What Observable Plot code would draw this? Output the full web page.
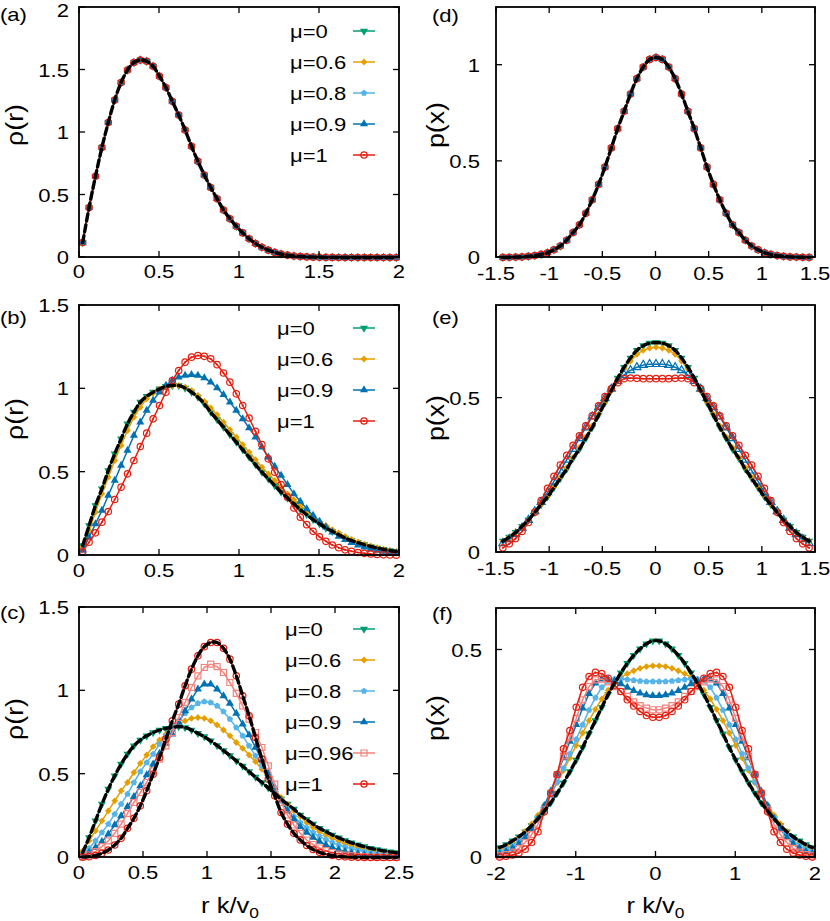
<!DOCTYPE html>
<html><head><meta charset="utf-8">
<script src="https://cdn.jsdelivr.net/npm/d3@7"></script>
<script src="https://cdn.jsdelivr.net/npm/@observablehq/plot@0.6"></script>
<style>
body{margin:0;background:#fff;}
#fig{position:relative;width:830px;height:921px;background:#fff;}
#fig svg{position:absolute;}
</style></head><body><div id="fig"></div>
<script>
// ---------- tick labels ----------
const xTicksR2 = [0, 0.5, 1, 1.5, 2];
const xTicksR25 = [0, 0.5, 1, 1.5, 2, 2.5];
const xTicksX15 = [-1.5, -1, -0.5, 0, 0.5, 1, 1.5];
const xTicksX2 = [-2, -1, 0, 1, 2];
const yTicksA = [0, 0.5, 1, 1.5, 2];
const yTicksBC = [0, 0.5, 1, 1.5];
const yTicksD = [0, 0.5, 1];
const yTicksEF = [0, 0.5];
const muLabels = {"0":"μ=0","0.6":"μ=0.6","0.8":"μ=0.8","0.9":"μ=0.9","0.96":"μ=0.96","1":"μ=1"};

// ---------- x positions ----------
const xAB = [0.02,0.06,0.10,0.14,0.18,0.22,0.26,0.30,0.34,0.38,0.42,0.46,0.50,0.54,0.58,0.62,0.66,0.70,0.74,0.78,0.82,0.86,0.90,0.94,0.98,1.02,1.06,1.10,1.14,1.18,1.22,1.26,1.30,1.34,1.38,1.42,1.46,1.50,1.54,1.58,1.62,1.66,1.70,1.74,1.78,1.82,1.86,1.90,1.94,1.98];
const xC = [0.025,0.075,0.125,0.175,0.225,0.275,0.325,0.375,0.425,0.475,0.525,0.575,0.625,0.675,0.725,0.775,0.825,0.875,0.925,0.975,1.025,1.075,1.125,1.175,1.225,1.275,1.325,1.375,1.425,1.475,1.525,1.575,1.625,1.675,1.725,1.775,1.825,1.875,1.925,1.975,2.025,2.075,2.125,2.175,2.225,2.275,2.325,2.375,2.425,2.475];
const xDE = [-1.44,-1.38,-1.32,-1.26,-1.20,-1.14,-1.08,-1.02,-0.96,-0.90,-0.84,-0.78,-0.72,-0.66,-0.60,-0.54,-0.48,-0.42,-0.36,-0.30,-0.24,-0.18,-0.12,-0.06,0,0.06,0.12,0.18,0.24,0.30,0.36,0.42,0.48,0.54,0.60,0.66,0.72,0.78,0.84,0.90,0.96,1.02,1.08,1.14,1.20,1.26,1.32,1.38,1.44];
const xF = [-1.96,-1.88,-1.80,-1.72,-1.64,-1.56,-1.48,-1.40,-1.32,-1.24,-1.16,-1.08,-1.00,-0.92,-0.84,-0.76,-0.68,-0.60,-0.52,-0.44,-0.36,-0.28,-0.20,-0.12,-0.04,0.04,0.12,0.20,0.28,0.36,0.44,0.52,0.60,0.68,0.76,0.84,0.92,1.00,1.08,1.16,1.24,1.32,1.40,1.48,1.56,1.64,1.72,1.80,1.88,1.96];

// ---------- panel (a): all mu coincide ----------
const rhoA = [0.12,0.40,0.65,0.88,1.08,1.26,1.40,1.50,1.56,1.58,1.57,1.53,1.45,1.36,1.25,1.14,1.02,0.89,0.77,0.66,0.56,0.47,0.38,0.31,0.25,0.197,0.15,0.112,0.082,0.059,0.041,0.028,0.019,0.012,0.008,0.005,0.003,0.002,0.001,0.001,0.0005,0,0,0,0,0,0,0,0,0];

// ---------- panel (b) ----------
const rhoB_mu0 = [0.06,0.18,0.30,0.40,0.51,0.61,0.70,0.79,0.86,0.92,0.955,0.98,1.0,1.015,1.02,1.02,1.005,0.98,0.95,0.91,0.86,0.815,0.77,0.725,0.68,0.635,0.59,0.545,0.50,0.46,0.42,0.38,0.345,0.31,0.275,0.245,0.215,0.19,0.165,0.145,0.125,0.105,0.09,0.077,0.065,0.054,0.045,0.037,0.03,0.024];
const rhoB_mu06 = [0.05,0.15,0.26,0.37,0.47,0.57,0.66,0.75,0.83,0.89,0.94,0.975,1.0,1.015,1.02,1.02,1.01,0.99,0.96,0.925,0.885,0.845,0.80,0.755,0.71,0.665,0.62,0.575,0.53,0.49,0.45,0.41,0.37,0.335,0.30,0.265,0.235,0.205,0.18,0.155,0.135,0.115,0.097,0.082,0.068,0.057,0.047,0.038,0.031,0.025];
const rhoB_mu09 = [0.03,0.11,0.19,0.27,0.36,0.45,0.54,0.63,0.72,0.80,0.87,0.93,0.98,1.02,1.05,1.07,1.08,1.085,1.08,1.065,1.04,1.005,0.965,0.92,0.87,0.82,0.765,0.71,0.65,0.59,0.535,0.48,0.425,0.37,0.325,0.28,0.24,0.205,0.17,0.14,0.115,0.095,0.077,0.062,0.05,0.04,0.031,0.024,0.018,0.014];
const rhoB_mu1 = [0.024,0.08,0.136,0.20,0.264,0.336,0.41,0.49,0.57,0.654,0.734,0.82,0.90,0.98,1.05,1.11,1.16,1.19,1.20,1.195,1.18,1.145,1.095,1.04,0.97,0.90,0.825,0.745,0.665,0.58,0.50,0.425,0.35,0.285,0.23,0.185,0.145,0.112,0.085,0.063,0.047,0.034,0.025,0.018,0.013,0.009,0.006,0.004,0.003,0.002];

// ---------- panel (c) ----------
const rhoC_mu0 = [0.03,0.12,0.22,0.32,0.41,0.49,0.56,0.62,0.67,0.705,0.73,0.75,0.765,0.775,0.782,0.785,0.78,0.765,0.745,0.725,0.70,0.672,0.642,0.612,0.58,0.548,0.515,0.482,0.45,0.418,0.385,0.35,0.32,0.29,0.255,0.228,0.20,0.175,0.155,0.135,0.118,0.102,0.088,0.076,0.065,0.055,0.047,0.04,0.034,0.029];
const rhoC_mu06 = [0.04,0.1,0.16,0.22,0.28,0.34,0.40,0.45,0.51,0.565,0.615,0.665,0.705,0.74,0.77,0.80,0.82,0.835,0.84,0.835,0.82,0.795,0.765,0.73,0.69,0.655,0.615,0.575,0.53,0.47,0.41,0.36,0.32,0.28,0.245,0.21,0.18,0.155,0.133,0.115,0.098,0.083,0.07,0.059,0.05,0.042,0.035,0.029,0.024,0.02];
const rhoC_mu08 = [0.02,0.055,0.1,0.15,0.2,0.26,0.32,0.38,0.45,0.515,0.57,0.62,0.68,0.73,0.775,0.82,0.865,0.9,0.925,0.935,0.93,0.91,0.875,0.83,0.78,0.73,0.67,0.61,0.55,0.48,0.40,0.34,0.29,0.245,0.21,0.178,0.15,0.127,0.107,0.09,0.075,0.063,0.052,0.043,0.036,0.029,0.024,0.019,0.016,0.013];
const rhoC_mu09 = [0.01,0.03,0.06,0.095,0.14,0.195,0.25,0.305,0.365,0.43,0.495,0.56,0.625,0.685,0.74,0.81,0.88,0.95,1.01,1.04,1.04,1.01,0.97,0.925,0.865,0.80,0.735,0.66,0.585,0.505,0.42,0.345,0.28,0.23,0.185,0.15,0.12,0.096,0.076,0.06,0.047,0.036,0.028,0.021,0.016,0.012,0.009,0.007,0.005,0.004];
const rhoC_mu096 = [0.005,0.015,0.035,0.065,0.1,0.145,0.20,0.265,0.33,0.39,0.45,0.52,0.59,0.67,0.75,0.84,0.93,1.02,1.09,1.14,1.16,1.145,1.11,1.05,0.985,0.91,0.83,0.75,0.66,0.55,0.44,0.33,0.255,0.195,0.145,0.105,0.078,0.057,0.041,0.029,0.02,0.014,0.01,0.007,0.005,0.003,0.002,0.001,0.001,0];
const rhoC_mu1 = [0.002,0.005,0.012,0.025,0.045,0.075,0.115,0.175,0.235,0.31,0.40,0.50,0.60,0.71,0.82,0.92,1.03,1.13,1.21,1.265,1.29,1.29,1.255,1.19,1.09,0.97,0.85,0.72,0.59,0.47,0.37,0.27,0.20,0.145,0.105,0.072,0.048,0.031,0.02,0.012,0.007,0.004,0.002,0.001,0.0005,0,0,0,0,0];

// ---------- panel (d): all mu coincide ----------
const pD = [0.0005,0.001,0.002,0.003,0.006,0.01,0.016,0.025,0.04,0.06,0.09,0.13,0.17,0.23,0.30,0.38,0.47,0.57,0.67,0.76,0.85,0.93,0.99,1.03,1.04,1.03,0.99,0.93,0.85,0.76,0.67,0.57,0.47,0.38,0.30,0.23,0.17,0.13,0.09,0.06,0.04,0.025,0.016,0.01,0.006,0.003,0.002,0.001,0.0005];

// ---------- panel (e) ----------
const pE_mu0 = [0.037,0.05,0.065,0.085,0.105,0.13,0.155,0.18,0.21,0.24,0.27,0.305,0.335,0.37,0.405,0.445,0.485,0.525,0.565,0.60,0.63,0.655,0.67,0.678,0.68,0.678,0.67,0.655,0.63,0.60,0.565,0.525,0.485,0.445,0.405,0.37,0.335,0.305,0.27,0.24,0.21,0.18,0.155,0.13,0.105,0.085,0.065,0.05,0.037];
const pE_mu06 = [0.037,0.05,0.066,0.085,0.106,0.13,0.156,0.183,0.213,0.244,0.275,0.308,0.34,0.374,0.41,0.448,0.487,0.525,0.562,0.595,0.62,0.642,0.655,0.662,0.665,0.662,0.655,0.642,0.62,0.595,0.562,0.525,0.487,0.448,0.41,0.374,0.34,0.308,0.275,0.244,0.213,0.183,0.156,0.13,0.106,0.085,0.066,0.05,0.037];
const pE_mu09 = [0.03,0.043,0.06,0.08,0.105,0.133,0.163,0.195,0.23,0.265,0.30,0.335,0.37,0.405,0.44,0.47,0.50,0.53,0.555,0.575,0.59,0.60,0.607,0.61,0.61,0.61,0.607,0.60,0.59,0.575,0.555,0.53,0.50,0.47,0.44,0.405,0.37,0.335,0.30,0.265,0.23,0.195,0.163,0.133,0.105,0.08,0.06,0.043,0.03];
const pE_mu1 = [0.015,0.028,0.045,0.068,0.097,0.13,0.168,0.208,0.247,0.283,0.315,0.347,0.378,0.41,0.443,0.475,0.505,0.53,0.55,0.563,0.565,0.564,0.563,0.563,0.563,0.563,0.563,0.564,0.565,0.563,0.55,0.53,0.505,0.475,0.443,0.41,0.378,0.347,0.315,0.283,0.247,0.208,0.168,0.13,0.097,0.068,0.045,0.028,0.015];

// ---------- panel (f) ----------
const pF_mu0 = [0.024,0.031,0.04,0.05,0.062,0.077,0.093,0.112,0.132,0.155,0.18,0.207,0.235,0.265,0.298,0.33,0.362,0.393,0.42,0.445,0.468,0.487,0.503,0.515,0.522,0.522,0.515,0.503,0.487,0.468,0.445,0.42,0.393,0.362,0.33,0.298,0.265,0.235,0.207,0.18,0.155,0.132,0.112,0.093,0.077,0.062,0.05,0.04,0.031,0.024];
const pF_mu06 = [0.02,0.027,0.036,0.048,0.063,0.081,0.102,0.126,0.152,0.18,0.21,0.24,0.27,0.30,0.33,0.357,0.382,0.403,0.42,0.434,0.443,0.45,0.456,0.46,0.462,0.462,0.46,0.456,0.45,0.443,0.434,0.42,0.403,0.382,0.357,0.33,0.30,0.27,0.24,0.21,0.18,0.152,0.126,0.102,0.081,0.063,0.048,0.036,0.027,0.02];
const pF_mu08 = [0.014,0.02,0.029,0.04,0.054,0.072,0.094,0.12,0.15,0.182,0.215,0.25,0.285,0.32,0.355,0.385,0.41,0.425,0.43,0.43,0.429,0.427,0.425,0.424,0.424,0.424,0.424,0.425,0.427,0.429,0.43,0.43,0.425,0.41,0.385,0.355,0.32,0.285,0.25,0.215,0.182,0.15,0.12,0.094,0.072,0.054,0.04,0.029,0.02,0.014];
const pF_mu09 = [0.009,0.014,0.022,0.033,0.048,0.068,0.094,0.125,0.16,0.2,0.24,0.28,0.32,0.36,0.395,0.42,0.43,0.43,0.425,0.418,0.41,0.402,0.396,0.392,0.39,0.39,0.392,0.396,0.402,0.41,0.418,0.425,0.43,0.43,0.42,0.395,0.36,0.32,0.28,0.24,0.2,0.16,0.125,0.094,0.068,0.048,0.033,0.022,0.014,0.009];
const pF_mu096 = [0.004,0.007,0.013,0.022,0.036,0.055,0.08,0.115,0.155,0.2,0.245,0.29,0.335,0.38,0.412,0.428,0.43,0.423,0.412,0.40,0.388,0.375,0.366,0.36,0.356,0.356,0.36,0.366,0.375,0.388,0.40,0.412,0.423,0.43,0.428,0.412,0.38,0.335,0.29,0.245,0.2,0.155,0.115,0.08,0.055,0.036,0.022,0.013,0.007,0.004];
const pF_mu1 = [0.001,0.003,0.006,0.011,0.02,0.036,0.062,0.11,0.155,0.20,0.262,0.306,0.362,0.41,0.436,0.446,0.443,0.432,0.415,0.40,0.38,0.365,0.352,0.342,0.338,0.338,0.342,0.352,0.365,0.38,0.40,0.415,0.432,0.443,0.446,0.436,0.41,0.362,0.306,0.262,0.20,0.155,0.11,0.062,0.036,0.02,0.011,0.006,0.003,0.001];

// ---------- styles ----------
const FONT = '"Liberation Sans", Arial, Helvetica, sans-serif';
const SX = 1.16; // horizontal stretch of the original lettering
const TICKFS = 19;
const symbolPentagon = {
  draw(ctx, size) {
    const R = Math.sqrt(size / 2.3776);
    for (let i = 0; i < 5; i++) {
      const a = -Math.PI / 2 + i * 2 * Math.PI / 5;
      const px = R * Math.cos(a), py = R * Math.sin(a);
      if (i === 0) ctx.moveTo(px, py); else ctx.lineTo(px, py);
    }
    ctx.closePath();
  }
};
const STYLE = {
  "0":    {color:"#009e73", symbol:d3.symbolTriangle, rotate:180, fill:true, r:3.0},
  "0.6":  {color:"#e69f00", symbol:d3.symbolSquare, rotate:45, fill:true, r:2.7},
  "0.8":  {color:"#56b4e9", symbol:symbolPentagon, rotate:0, fill:true, r:2.9},
  "0.9":  {color:"#0072b2", symbol:d3.symbolTriangle, rotate:0, fill:true, r:3.0},
  "0.96": {color:"#f4837d", symbol:d3.symbolSquare, rotate:0, fill:false, r:3.4},
  "1":    {color:"#e51e10", symbol:d3.symbolCircle, rotate:0, fill:false, r:3.2, dot:true}
};

function txt(g, str, x, y, size, anchor, rot) {
  return g.append("text")
    .attr("transform", `translate(${x},${y})` + (rot ? ` rotate(${rot})` : "") + ` scale(${SX},1)`)
    .attr("text-anchor", anchor).attr("font-size", size).attr("fill", "#000").text(str);
}

function decor(p) {
  return (index, scales, values, dims) => {
    const x0 = dims.marginLeft, x1 = dims.width - dims.marginRight;
    const y0 = dims.marginTop, y1 = dims.height - dims.marginBottom;
    const g = d3.create("svg:g").attr("font-family", FONT);
    const tl = 6;
    const ln = (a, b, c, d) => g.append("line").attr("x1", a).attr("y1", b).attr("x2", c).attr("y2", d)
      .attr("stroke", "#000").attr("stroke-width", 1.3);
    for (const t of p.xTicks) {
      const X = scales.x(t);
      ln(X, y1, X, y1 - tl); ln(X, y0, X, y0 + tl);
      txt(g, String(t), X, y1 + p.xTickBase, TICKFS, "middle");
    }
    for (const t of p.yTicks) {
      const Y = scales.y(t);
      ln(x0, Y, x0 + tl, Y); ln(x1, Y, x1 - tl, Y);
      txt(g, String(t), x0 - p.tickGap, Math.max(Y + 7, 17), TICKFS, "end");
    }
    g.append("rect").attr("x", x0).attr("y", y0).attr("width", x1 - x0).attr("height", y1 - y0)
      .attr("fill", "none").attr("stroke", "#000").attr("stroke-width", 1.8);
    // panel tag
    txt(g, p.tag, p.tagPos[0], p.tagPos[1], TICKFS, "start");
    // y label
    txt(g, p.yLabel, p.yLabelPos[0], p.yLabelPos[1], 23, "middle", -90).attr("dy", "0.35em");
    // x label
    if (p.xLabel) {
      const cx = (x0 + x1) / 2 + p.xLabelShift;
      const t = g.append("text").attr("transform", `translate(${cx},${p.xLabelBase}) scale(${SX},1)`)
        .attr("text-anchor", "middle").attr("font-size", 22).attr("fill", "#000");
      t.append("tspan").text("r k/v");
      t.append("tspan").attr("font-size", 15).attr("dy", 5).text("0");
    }
    // legend
    if (p.legend) {
      p.series.forEach((s, i) => {
        const st = STYLE[s[0]];
        const ry = y0 + p.legend.dy + i * 31;
        txt(g, muLabels[s[0]], x1 + p.legend.dx, ry + 7, TICKFS, "start");
        g.append("line").attr("x1", x1 - 46).attr("x2", x1 - 24).attr("y1", ry).attr("y2", ry)
          .attr("stroke", st.color).attr("stroke-width", 1.5);
        g.append("path").attr("d", d3.symbol(st.symbol, Math.PI * st.r * st.r)())
          .attr("transform", `translate(${x1 - 35},${ry}) rotate(${st.rotate})`)
          .attr("fill", st.fill ? st.color : "none").attr("stroke", st.fill ? "none" : st.color)
          .attr("stroke-width", 1.2);
        if (st.dot) g.append("circle").attr("cx", x1 - 35).attr("cy", ry).attr("r", 1).attr("fill", st.color);
      });
    }
    return g.node();
  };
}

const panels = [
  {tag:"(a)", left:0, top:0, width:415, height:290, m:[7,16,33,79], xDomain:[0,2], yDomain:[0,2],
   xTicks:xTicksR2, yTicks:yTicksA, yLabel:"ρ(r)", yLabelPos:[14.5,125], tagPos:[0,21], tickGap:10, xTickBase:21,
   series:[["0",xAB,rhoA],["0.6",xAB,rhoA],["0.8",xAB,rhoA],["0.9",xAB,rhoA],["1",xAB,rhoA]],
   dashed:[[xAB,rhoA]], legend:{dx:-109, dy:24}},
  {tag:"(b)", left:0, top:290, width:415, height:300, m:[15,16,35,79], xDomain:[0,2], yDomain:[0,1.5],
   xTicks:xTicksR2, yTicks:yTicksBC, yLabel:"ρ(r)", yLabelPos:[14.5,129], tagPos:[0,34], tickGap:10, xTickBase:22,
   series:[["0",xAB,rhoB_mu0],["0.6",xAB,rhoB_mu06],["0.9",xAB,rhoB_mu09],["1",xAB,rhoB_mu1]],
   dashed:[[xAB,rhoB_mu0]], legend:{dx:-122, dy:23}},
  {tag:"(c)", left:0, top:590, width:415, height:331, m:[17,16,64,79], xDomain:[0,2.5], yDomain:[0,1.5],
   xTicks:xTicksR25, yTicks:yTicksBC, yLabel:"ρ(r)", yLabelPos:[14.5,129], tagPos:[0,29], tickGap:10, xTickBase:22,
   series:[["0",xC,rhoC_mu0],["0.6",xC,rhoC_mu06],["0.8",xC,rhoC_mu08],["0.9",xC,rhoC_mu09],["0.96",xC,rhoC_mu096],["1",xC,rhoC_mu1]],
   dashed:[[xC,rhoC_mu0],[xC,rhoC_mu1]], legend:{dx:-114, dy:22}, xLabel:true, xLabelShift:-9, xLabelBase:323},
  {tag:"(d)", left:415, top:0, width:415, height:290, m:[7,15,33,81], xDomain:[-1.5,1.5], yDomain:[0,1.3],
   xTicks:xTicksX15, yTicks:yTicksD, yLabel:"p(x)", yLabelPos:[21,125], tagPos:[17,22], tickGap:16, xTickBase:23,
   series:[["0",xDE,pD],["0.6",xDE,pD],["0.8",xDE,pD],["0.9",xDE,pD],["1",xDE,pD]],
   dashed:[[xDE,pD]]},
  {tag:"(e)", left:415, top:290, width:415, height:300, m:[15,15,38,81], xDomain:[-1.5,1.5], yDomain:[0,0.8],
   xTicks:xTicksX15, yTicks:yTicksEF, yLabel:"p(x)", yLabelPos:[21,128], tagPos:[17,34], tickGap:16, xTickBase:23,
   series:[["0",xDE,pE_mu0],["0.6",xDE,pE_mu06],["0.9",xDE,pE_mu09,{fill:false}],["1",xDE,pE_mu1]],
   dashed:[[xDE,pE_mu0]]},
  {tag:"(f)", left:415, top:590, width:415, height:331, m:[18,15,64,81], xDomain:[-2,2], yDomain:[0,0.6],
   xTicks:xTicksX2, yTicks:yTicksEF, yLabel:"p(x)", yLabelPos:[21,128], tagPos:[17,30], tickGap:14, xTickBase:23,
   series:[["0",xF,pF_mu0],["0.6",xF,pF_mu06],["0.8",xF,pF_mu08],["0.9",xF,pF_mu09],["0.96",xF,pF_mu096],["1",xF,pF_mu1]],
   dashed:[[xF,pF_mu0]], xLabel:true, xLabelShift:0, xLabelBase:323}
];

const fig = document.getElementById("fig");
for (const p of panels) {
  const marks = [];
  for (const s of p.series) {
    const st = {...STYLE[s[0]], ...(s[3] || {})};
    const data = s[2].map((v, i) => ({x: s[1][i], y: v}));
    marks.push(Plot.line(data, {x:"x", y:"y", stroke: st.color, strokeWidth: 1.5}));
    marks.push(Plot.dot(data, {x:"x", y:"y", symbol: st.symbol, r: st.r, rotate: st.rotate,
      fill: st.fill ? st.color : "none", stroke: st.fill ? "none" : st.color, strokeWidth: 1.2}));
    if (st.dot) marks.push(Plot.dot(data, {x:"x", y:"y", r: 1, fill: st.color, stroke: "none"}));
  }
  for (const d of p.dashed) {
    const data = d[1].map((v, i) => ({x: d[0][i], y: v}));
    marks.push(Plot.line(data, {x:"x", y:"y", stroke:"#000", strokeWidth: 3.4, strokeDasharray: "7,4", curve: "catmull-rom"}));
  }
  marks.push(decor(p));
  const svg = Plot.plot({
    width: p.width, height: p.height,
    marginTop: p.m[0], marginRight: p.m[1], marginBottom: p.m[2], marginLeft: p.m[3],
    x: {domain: p.xDomain, axis: null},
    y: {domain: p.yDomain, axis: null},
    style: {fontFamily: FONT, background: "transparent", overflow: "visible"},
    marks
  });
  svg.style.left = p.left + "px";
  svg.style.top = p.top + "px";
  fig.appendChild(svg);
}
</script></body></html>
